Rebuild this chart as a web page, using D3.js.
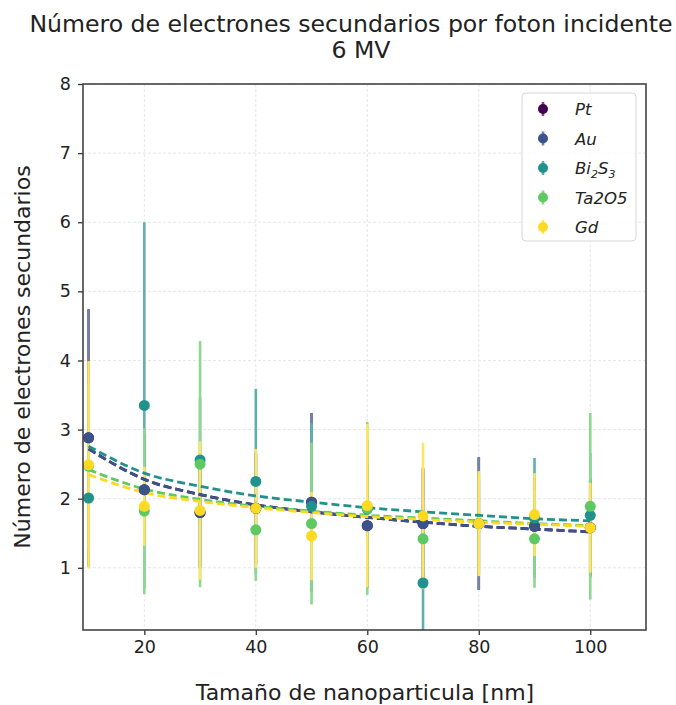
<!DOCTYPE html>
<html>
<head>
<meta charset="utf-8">
<script src="https://cdn.jsdelivr.net/npm/d3@7"></script>
<style>
  html, body { margin: 0; padding: 0; background: #ffffff; }
  svg { display: block; font-family: "DejaVu Sans", sans-serif; }
</style>
</head>
<body>
<svg id="chart" width="676" height="705"></svg>
<script>
// Nanoparticle sizes (nm)
const sizes = [10, 20, 30, 40, 50, 60, 70, 80, 90, 100];

// Mean secondary electrons per incident photon, one array per material
const ptMean   = [2.88, 2.13, 1.80, 1.86, 1.95, 1.61, 1.64, 1.64, 1.60, 1.58];
const auMean   = [2.88, 2.13, 1.80, 1.86, 1.95, 1.61, 1.64, 1.64, 1.60, 1.58];
const biMean   = [2.01, 3.35, 2.56, 2.25, 1.89, 1.85, 0.78, 1.64, 1.72, 1.76];
const taMean   = [2.47, 1.82, 2.50, 1.55, 1.64, 1.86, 1.42, 1.64, 1.42, 1.89];
const gdMean   = [2.49, 1.89, 1.83, 1.86, 1.46, 1.90, 1.75, 1.64, 1.77, 1.58];

// Standard deviations
const ptErr = [1.86, 0.80, 0.80, 0.80, 1.29, 0.90, 0.80, 0.96, 0.70, 0.70];
const auErr = [1.86, 0.80, 0.80, 0.80, 1.29, 0.90, 0.80, 0.96, 0.70, 0.70];
const biErr = [0.80, 2.65, 0.90, 1.34, 1.20, 1.00, 0.90, 0.60, 0.87, 0.90];
const taErr = [1.20, 1.20, 1.78, 0.74, 1.17, 1.25, 0.50, 0.70, 0.71, 1.35];
const gdErr = [1.50, 0.57, 1.00, 0.86, 0.64, 1.18, 1.06, 0.76, 0.60, 0.65];

// Fitted trend for each material, evaluated at each size
const ptFit = [2.72, 2.28, 2.06, 1.91, 1.81, 1.73, 1.66, 1.60, 1.56, 1.52];
const auFit = [2.72, 2.28, 2.06, 1.91, 1.81, 1.73, 1.66, 1.60, 1.56, 1.52];
const biFit = [2.76, 2.37, 2.18, 2.04, 1.95, 1.87, 1.81, 1.76, 1.71, 1.68];
const taFit = [2.42, 2.14, 1.99, 1.89, 1.82, 1.76, 1.72, 1.68, 1.64, 1.61];
const gdFit = [2.35, 2.09, 1.96, 1.87, 1.80, 1.74, 1.70, 1.66, 1.63, 1.60];

const xTicks = [20, 40, 60, 80, 100];
const yTicks = [1, 2, 3, 4, 5, 6, 7, 8];

const series = [
  { key: "Pt",    color: "#440154", mean: ptMean, err: ptErr, fit: ptFit },
  { key: "Au",    color: "#3b528b", mean: auMean, err: auErr, fit: auFit },
  { key: "Bi2S3", color: "#21918c", mean: biMean, err: biErr, fit: biFit },
  { key: "Ta2O5", color: "#5ec962", mean: taMean, err: taErr, fit: taFit },
  { key: "Gd",    color: "#fdda22", mean: gdMean, err: gdErr, fit: gdFit }
];

// Error bars use a lighter, opaque tint of each series colour
const barTint = c => d3.interpolateRgb("#ffffff", c)(0.72);

const svg = d3.select("#chart");
const plot = { left: 83, right: 646, top: 84, bottom: 630 };

const x = d3.scaleLinear().domain([9, 110]).range([plot.left, plot.right]);
const y = d3.scaleLinear().domain([0.1, 8]).range([plot.bottom, plot.top]);

svg.append("defs").append("clipPath").attr("id", "plot-clip")
  .append("rect")
  .attr("x", plot.left).attr("y", plot.top)
  .attr("width", plot.right - plot.left).attr("height", plot.bottom - plot.top);

// Grid
const grid = svg.append("g").attr("class", "grid");
grid.selectAll("line.v").data(xTicks).join("line")
  .attr("x1", d => x(d)).attr("x2", d => x(d))
  .attr("y1", plot.top).attr("y2", plot.bottom)
  .attr("stroke", "#e6e6e6").attr("stroke-width", 1).attr("stroke-dasharray", "3,2");
grid.selectAll("line.h").data(yTicks).join("line")
  .attr("x1", plot.left).attr("x2", plot.right)
  .attr("y1", d => y(d)).attr("y2", d => y(d))
  .attr("stroke", "#e6e6e6").attr("stroke-width", 1).attr("stroke-dasharray", "3,2");

const layer = svg.append("g").attr("clip-path", "url(#plot-clip)");

// Error bars
series.forEach(s => {
  layer.append("g").selectAll("line").data(sizes).join("line")
    .attr("x1", d => x(d)).attr("x2", d => x(d))
    .attr("y1", (d, i) => y(s.mean[i] - s.err[i]))
    .attr("y2", (d, i) => y(s.mean[i] + s.err[i]))
    .attr("stroke", barTint(s.color)).attr("stroke-width", 2.6);
});

// Fitted trends
const fitLine = d3.line()
  .x((d, i) => x(sizes[i]))
  .y(d => y(d))
  .curve(d3.curveMonotoneX);
series.forEach(s => {
  layer.append("path").datum(s.fit)
    .attr("d", fitLine)
    .attr("fill", "none")
    .attr("stroke", s.color).attr("stroke-width", 2.8)
    .attr("stroke-dasharray", "8,4");
});

// Mean markers
series.forEach(s => {
  layer.append("g").selectAll("circle").data(sizes).join("circle")
    .attr("cx", d => x(d))
    .attr("cy", (d, i) => y(s.mean[i]))
    .attr("r", 5.5)
    .attr("fill", s.color);
});

// Axes
const xAxis = svg.append("g")
  .attr("transform", `translate(0,${plot.bottom})`)
  .call(d3.axisBottom(x).tickValues(xTicks).tickSize(5).tickPadding(6).tickSizeOuter(0));
const yAxis = svg.append("g")
  .attr("transform", `translate(${plot.left},0)`)
  .call(d3.axisLeft(y).tickValues(yTicks).tickSize(5).tickPadding(7).tickSizeOuter(0));
[xAxis, yAxis].forEach(a => {
  a.select(".domain").remove();
  a.selectAll(".tick line").attr("stroke", "#333").attr("stroke-width", 1.3);
  a.selectAll(".tick text").attr("fill", "#222").style("font-size", "17.5px")
    .style("font-family", "'DejaVu Sans', sans-serif");
});

// Frame
svg.append("rect")
  .attr("x", plot.left).attr("y", plot.top)
  .attr("width", plot.right - plot.left).attr("height", plot.bottom - plot.top)
  .attr("fill", "none").attr("stroke", "#444").attr("stroke-width", 1.6);

// Titles
svg.append("text")
  .attr("x", 351).attr("y", 32)
  .attr("text-anchor", "middle")
  .style("font-size", "23.6px").attr("fill", "#222")
  .text("Número de electrones secundarios por foton incidente");
svg.append("text")
  .attr("x", 361).attr("y", 58)
  .attr("text-anchor", "middle")
  .style("font-size", "23.6px").attr("fill", "#222")
  .text("6 MV");

svg.append("text")
  .attr("x", 365).attr("y", 700)
  .attr("text-anchor", "middle")
  .style("font-size", "22px").attr("fill", "#222")
  .text("Tamaño de nanoparticula [nm]");
svg.append("text")
  .attr("transform", `translate(30,${(plot.top + plot.bottom) / 2}) rotate(-90)`)
  .attr("text-anchor", "middle")
  .style("font-size", "22px").attr("fill", "#222")
  .text("Número de electrones secundarios");

// Legend
const legend = svg.append("g").attr("transform", "translate(522,93)");
legend.append("rect")
  .attr("width", 114).attr("height", 148).attr("rx", 4)
  .attr("fill", "#fff").attr("fill-opacity", 0.8)
  .attr("stroke", "#d6d6d6").attr("stroke-width", 1);
const items = legend.selectAll("g.item").data(series).join("g")
  .attr("transform", (d, i) => `translate(21,${16 + i * 29.5})`);
items.append("line")
  .attr("y1", -7).attr("y2", 7)
  .attr("stroke", d => barTint(d.color)).attr("stroke-width", 2.6);
items.append("circle").attr("r", 5).attr("fill", d => d.color);
const labels = items.append("text")
  .attr("x", 32).attr("y", 6)
  .style("font-size", "16.5px").style("font-style", "italic").attr("fill", "#222");
labels.each(function(d) {
  const t = d3.select(this);
  if (d.key === "Bi2S3") {
    t.append("tspan").text("Bi");
    t.append("tspan").attr("dy", 4).style("font-size", "11px").text("2");
    t.append("tspan").attr("dy", -4).text("S");
    t.append("tspan").attr("dy", 4).style("font-size", "11px").text("3");
  } else {
    t.text(d.key);
  }
});
</script>
</body>
</html>
